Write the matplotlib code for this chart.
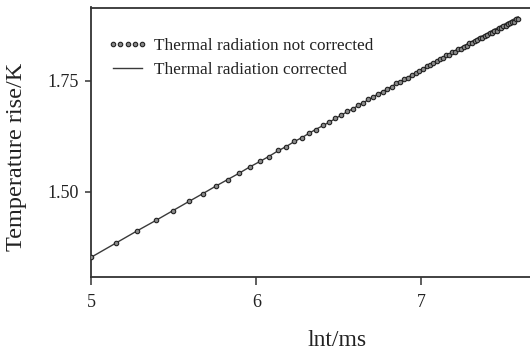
import matplotlib
matplotlib.use("Agg")
import matplotlib.pyplot as plt

lnt = [4.997, 5.147, 5.278, 5.394, 5.497, 5.591, 5.677, 5.756, 5.829, 5.897,
       5.961, 6.021, 6.078, 6.131, 6.182, 6.230, 6.277, 6.321, 6.363, 6.404,
       6.443, 6.480, 6.516, 6.551, 6.585, 6.617, 6.649, 6.680, 6.709, 6.738,
       6.766, 6.793, 6.820, 6.846, 6.871, 6.896, 6.920, 6.943, 6.966, 6.988,
       7.010, 7.032, 7.053, 7.073, 7.093, 7.113, 7.133, 7.152, 7.170, 7.188,
       7.206, 7.224, 7.241, 7.258, 7.275, 7.292, 7.308, 7.324, 7.340, 7.355,
       7.370, 7.385, 7.400, 7.415, 7.429, 7.443, 7.457, 7.471, 7.484, 7.498,
       7.511, 7.524, 7.537, 7.550, 7.562, 7.574, 7.587]

rise_not_corrected = [1.352, 1.385, 1.411, 1.437, 1.457, 1.479, 1.495, 1.514, 1.527, 1.543,
                      1.555, 1.569, 1.579, 1.593, 1.601, 1.614, 1.621, 1.633, 1.640, 1.650,
                      1.656, 1.666, 1.672, 1.681, 1.686, 1.695, 1.700, 1.708, 1.713, 1.721,
                      1.725, 1.732, 1.736, 1.744, 1.747, 1.754, 1.757, 1.764, 1.767, 1.773,
                      1.776, 1.783, 1.785, 1.791, 1.794, 1.800, 1.801, 1.807, 1.808, 1.814,
                      1.815, 1.821, 1.822, 1.827, 1.828, 1.834, 1.835, 1.840, 1.841, 1.846,
                      1.846, 1.851, 1.852, 1.857, 1.858, 1.862, 1.863, 1.868, 1.868, 1.873,
                      1.874, 1.878, 1.879, 1.883, 1.883, 1.888, 1.888]

rise_corrected = [1.352, 1.384, 1.412, 1.436, 1.458, 1.478, 1.496, 1.513, 1.528, 1.542,
                  1.556, 1.568, 1.580, 1.592, 1.602, 1.613, 1.622, 1.632, 1.641, 1.649,
                  1.657, 1.665, 1.673, 1.680, 1.687, 1.694, 1.701, 1.707, 1.714, 1.720,
                  1.726, 1.731, 1.737, 1.743, 1.748, 1.753, 1.758, 1.763, 1.768, 1.772,
                  1.777, 1.782, 1.786, 1.790, 1.795, 1.799, 1.803, 1.807, 1.810, 1.814,
                  1.818, 1.822, 1.825, 1.829, 1.832, 1.836, 1.839, 1.842, 1.846, 1.849,
                  1.851, 1.854, 1.857, 1.860, 1.863, 1.866, 1.868, 1.871, 1.874, 1.876,
                  1.879, 1.882, 1.884, 1.887, 1.889, 1.892, 1.894]

xticks = [5, 6, 7]
yticks = [1.50, 1.75]
ytick_labels = ["1.50", "1.75"]

plt.rcParams['font.family'] = ['Liberation Serif', 'DejaVu Serif']

fig = plt.figure(figsize=(5.30, 3.52), dpi=100)
W, H = 530.0, 352.0
left_px, right_px, top_px, bottom_px = 91.3, 583.0, 7.5, 277.0
ax = fig.add_axes([left_px / W, 1 - bottom_px / H,
                   (right_px - left_px) / W, (bottom_px - top_px) / H])

ax.plot(lnt, rise_corrected, color='#3a3a3a', lw=1.0, zorder=2,
        label='Thermal radiation corrected')
ax.plot(lnt, rise_not_corrected, linestyle='none', marker='o', ms=3.2,
        mfc='#8a8a8a', mec='#222222', mew=0.8, zorder=3,
        label='Thermal radiation not corrected')

ax.set_xlim(5.0, 7.98)
ax.set_ylim(1.308, 1.915)
ax.set_xticks(xticks)
ax.set_yticks(yticks)
ax.set_yticklabels(ytick_labels)

for s in ['left', 'bottom', 'top', 'right']:
    ax.spines[s].set_color('#333333')
    ax.spines[s].set_linewidth(1.3)

ax.tick_params(axis='x', direction='out', length=6, width=1.1, pad=6,
               labelsize=13, colors='#333333', labelcolor='#222222')
ax.tick_params(axis='y', direction='out', length=4, width=1.1, pad=5,
               labelsize=13, colors='#333333', labelcolor='#222222')

ax.set_xlabel('lnt/ms', fontsize=17, color='#222222', labelpad=14)
ax.set_ylabel('Temperature rise/K', fontsize=17.5, color='#222222')
ax.yaxis.set_label_coords(-0.130, 0.445)

handles, labels = ax.get_legend_handles_labels()
leg = fig.legend(handles[::-1], labels[::-1], loc='upper left',
                 bbox_to_anchor=(108 / W, 1 - 38 / H), frameon=False,
                 fontsize=12.4, numpoints=5, handlelength=2.3,
                 handletextpad=0.4, labelspacing=0.45,
                 borderpad=0, borderaxespad=0)
for t in leg.get_texts():
    t.set_color('#222222')

fig.savefig('out.png', dpi=100)
